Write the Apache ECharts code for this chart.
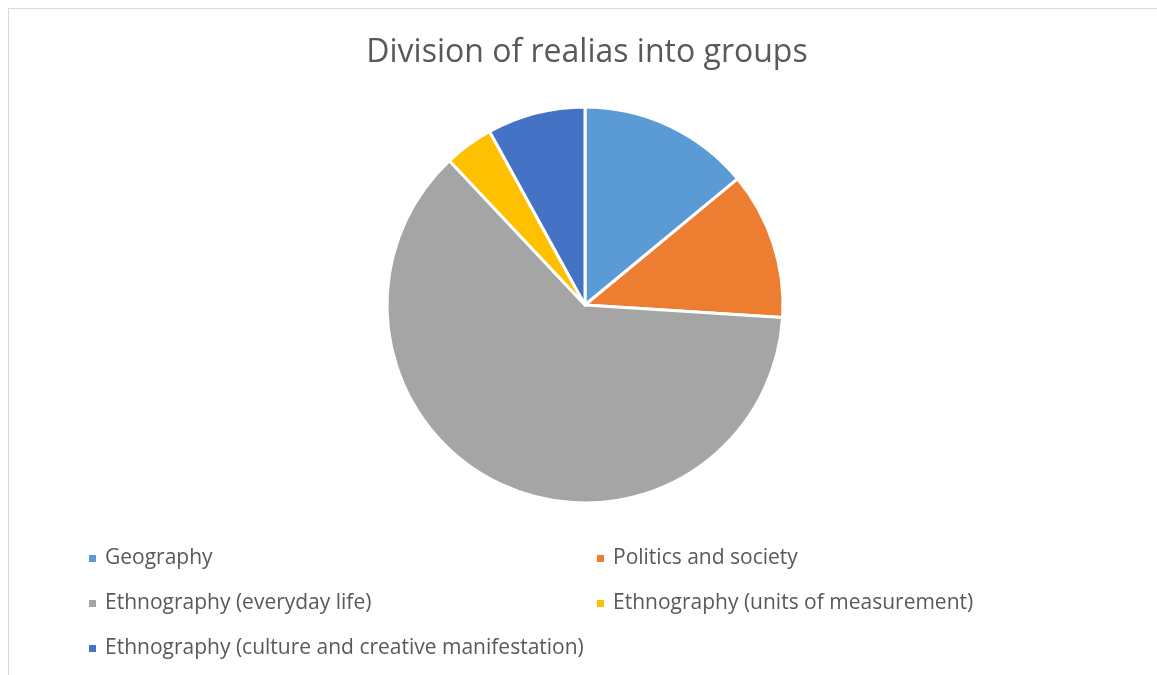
<!DOCTYPE html>
<html>
<head>
<meta charset="utf-8">
<script src="https://cdn.jsdelivr.net/npm/echarts@6/dist/echarts.min.js"></script>
<style>
  html, body { margin: 0; padding: 0; background: #fff; }
  #frame {
    position: absolute; left: 8px; top: 8px; width: 1200px; height: 700px;
    border: 1px solid #d9d9d9; box-sizing: border-box;
  }
  #chart { position: absolute; left: 0; top: 0; width: 1157px; height: 675px; }
</style>
</head>
<body>
<div id="frame"></div>
<div id="chart"></div>
<script>
// groups of realia, share in percent
var groups = [
  "Geography",
  "Politics and society",
  "Ethnography (everyday life)",
  "Ethnography (units of measurement)",
  "Ethnography (culture and creative manifestation)"
];
var shares = [14, 12, 62, 4, 8];
var colors = ["#5b9bd5", "#ed7d31", "#a5a5a5", "#ffc000", "#4472c4"];

var pieData = [];
for (var i = 0; i < groups.length; i++) {
  pieData.push({ name: groups[i], value: shares[i] });
}

var myChart = echarts.init(document.getElementById("chart"));
var legendText = { fontFamily: "Open Sans", fontSize: 21, color: "#595959", padding: [0, 0, 0, 3] };
myChart.setOption({
  color: colors,
  title: {
    text: "Division of realias into groups",
    left: 582,
    textAlign: "center",
    top: 32,
    textStyle: { fontFamily: "Open Sans", fontSize: 32, fontWeight: "normal", color: "#595959" }
  },
  legend: [
    {
      orient: "vertical",
      left: 87,
      top: 548,
      padding: 0,
      itemWidth: 9,
      itemHeight: 9,
      itemGap: 24,
      icon: "rect",
      data: [groups[0], groups[2], groups[4]],
      textStyle: legendText
    },
    {
      orient: "vertical",
      left: 595,
      top: 548,
      padding: 0,
      itemWidth: 9,
      itemHeight: 9,
      itemGap: 24,
      icon: "rect",
      data: [groups[1], groups[3]],
      textStyle: legendText
    }
  ],
  series: [
    {
      type: "pie",
      center: [585, 305],
      radius: 198,
      startAngle: 90,
      clockwise: true,
      label: { show: false },
      labelLine: { show: false },
      itemStyle: { borderColor: "#ffffff", borderWidth: 3 },
      emphasis: { scale: false },
      data: pieData
    }
  ]
});
</script>
</body>
</html>
